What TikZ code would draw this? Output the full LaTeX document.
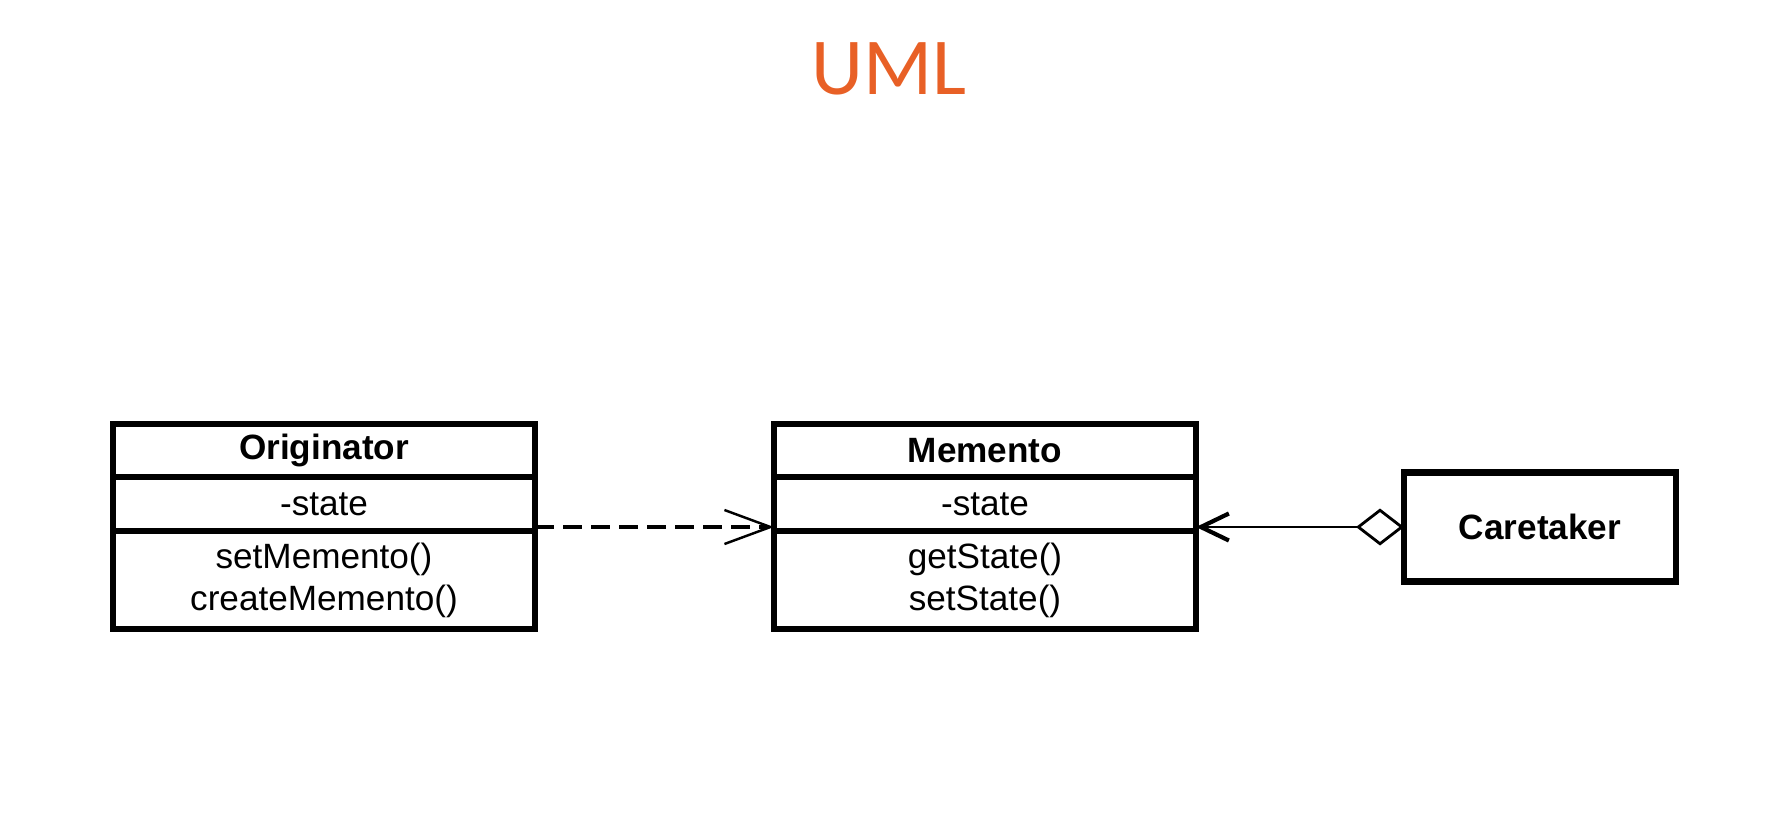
\documentclass[tikz,border=0pt]{standalone}
\usepackage{fontspec}
\setmainfont{Liberation Sans}
\newfontfamily\titlefont{Carlito}
\usepackage{xcolor}
\usetikzlibrary{math}
\usetikzlibrary{positioning}
\usetikzlibrary{arrows.meta}
\definecolor{umlorange}{RGB}{232,96,38}

\begin{document}
\begin{tikzpicture}
\tikzset{
  base/.style={draw, line width=1.8pt, align=center, inner sep=0pt, outer sep=0pt, font=\fontsize{10}{12}\selectfont},
  hd/.style={base, minimum width=\w cm, minimum height=0.53cm, font=\fontsize{10}{12}\selectfont\bfseries},
  att/.style={base, minimum width=\w cm, minimum height=0.54cm},
  ops/.style={base, minimum width=\w cm, minimum height=0.98cm},
}

\tikzmath{\w=4.22; \y=-4.505;}

\useasboundingbox (0, 0) rectangle (17.73, -8.31);

\node [font=\titlefont\fontsize{23}{28}\selectfont, text=umlorange, inner sep=0pt] (title) at (8.89, -0.69) {UML};

\node [hd] (o1) at (3.24, \y) {Originator};
\node [att, below=0pt of o1] (o2) {-state};
\node [ops, below=0pt of o2] (o3) {setMemento()\\createMemento()};

\node [hd] (m1) at (9.85, \y) {Memento};
\node [att, below=0pt of m1] (m2) {-state};
\node [ops, below=0pt of m2] (m3) {getState()\\setState()};

\node [base, minimum width=2.72cm, minimum height=1.09cm, font=\fontsize{10}{12}\selectfont\bfseries] (ct) at (15.40, -5.27) {Caretaker};

%\draw[->, >=stealth] (o2) -- (m2);
\draw[line width=0.9pt, dash pattern=on 0.19cm off 0.09cm, -{Straight Barb[length=0.46cm, width=0.34cm, line width=0.7pt]}] (ct.west -| o2.east) -- (ct.west -| m2.west);
\draw[line width=0.8pt, {Diamond[open, length=0.48cm, width=0.37cm, line width=0.8pt]}-{Straight Barb[length=0.28cm, width=0.27cm, line width=1.2pt]}] (ct.west) -- (ct.west -| m2.east);
\end{tikzpicture}
\end{document}
